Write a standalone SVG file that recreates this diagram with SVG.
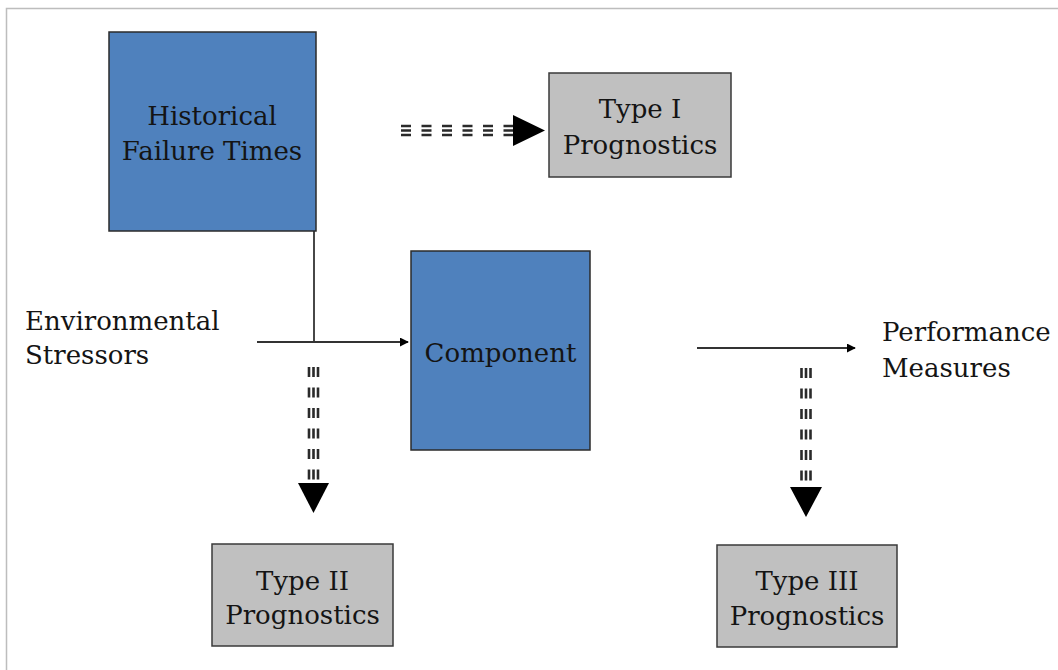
<svg xmlns="http://www.w3.org/2000/svg" width="1058" height="670" viewBox="0 0 1058 670">
<defs>
<style>
.blue{fill:#4f81bd;stroke:#2b2b2b;stroke-width:1.5}
.gray{fill:#c0c0c0;stroke:#3a3a3a;stroke-width:1.5}
.t{font-family:"DejaVu Serif","Liberation Serif",serif;font-size:26px;fill:#141414}
.ln{stroke:#333;stroke-width:1.8;fill:none}
.dh{stroke:#2a2a2a;stroke-width:2.6;stroke-dasharray:10 10.5;fill:none}
.head{fill:#000}
</style>
<marker id="arr" viewBox="0 0 10 10" refX="9" refY="5" markerWidth="9" markerHeight="9" orient="auto" markerUnits="userSpaceOnUse">
<path d="M0,0 L10,5 L0,10 z" fill="#000"/>
</marker>
</defs>
<rect x="0" y="0" width="1058" height="670" fill="#fff"/>
<path d="M6.5,670 V8.5 H1058" fill="none" stroke="#bdbdbd" stroke-width="1.5"/>

<g id="connectors">
<line class="ln" x1="314" y1="231" x2="314" y2="342"/>
<line class="ln" x1="257" y1="342" x2="408" y2="342" marker-end="url(#arr)"/>
<line class="ln" x1="697" y1="348" x2="855" y2="348" marker-end="url(#arr)"/>
<g id="dash-type1">
<line class="dh" x1="401" y1="126" x2="514" y2="126"/>
<line class="dh" x1="401" y1="130.5" x2="514" y2="130.5"/>
<line class="dh" x1="401" y1="135" x2="514" y2="135"/>
<path class="head" d="M513,115 L545,130.5 L513,146 z"/>
</g>
<g id="dash-type2">
<line class="dh" x1="309" y1="367" x2="309" y2="482"/>
<line class="dh" x1="313.5" y1="367" x2="313.5" y2="482"/>
<line class="dh" x1="318" y1="367" x2="318" y2="482"/>
<path class="head" d="M298,483 L329,483 L313.5,513 z"/>
</g>
<g id="dash-type3">
<line class="dh" x1="801.5" y1="368" x2="801.5" y2="486"/>
<line class="dh" x1="806" y1="368" x2="806" y2="486"/>
<line class="dh" x1="810.5" y1="368" x2="810.5" y2="486"/>
<path class="head" d="M790,487 L822,487 L806,517 z"/>
</g>
</g>

<g id="historical">
<rect class="blue" x="109" y="32" width="207" height="199"/>
<text class="t" x="212" y="125" text-anchor="middle">Historical</text>
<text class="t" x="212" y="160" text-anchor="middle">Failure Times</text>
</g>
<g id="type1">
<rect class="gray" x="549" y="73" width="182" height="104"/>
<text class="t" x="640" y="118" text-anchor="middle">Type I</text>
<text class="t" x="640" y="154" text-anchor="middle">Prognostics</text>
</g>
<g id="component">
<rect class="blue" x="411" y="251" width="179" height="199"/>
<text class="t" x="500.5" y="362" text-anchor="middle">Component</text>
</g>
<g id="type2">
<rect class="gray" x="212" y="544" width="181" height="102"/>
<text class="t" x="302.5" y="590" text-anchor="middle">Type II</text>
<text class="t" x="302.5" y="624" text-anchor="middle">Prognostics</text>
</g>
<g id="type3">
<rect class="gray" x="717" y="545" width="180" height="102"/>
<text class="t" x="807" y="590" text-anchor="middle">Type III</text>
<text class="t" x="807" y="625" text-anchor="middle">Prognostics</text>
</g>
<g id="env">
<text class="t" x="25" y="330">Environmental</text>
<text class="t" x="25" y="364">Stressors</text>
</g>
<g id="perf">
<text class="t" x="882" y="341">Performance</text>
<text class="t" x="882" y="377">Measures</text>
</g>
</svg>
